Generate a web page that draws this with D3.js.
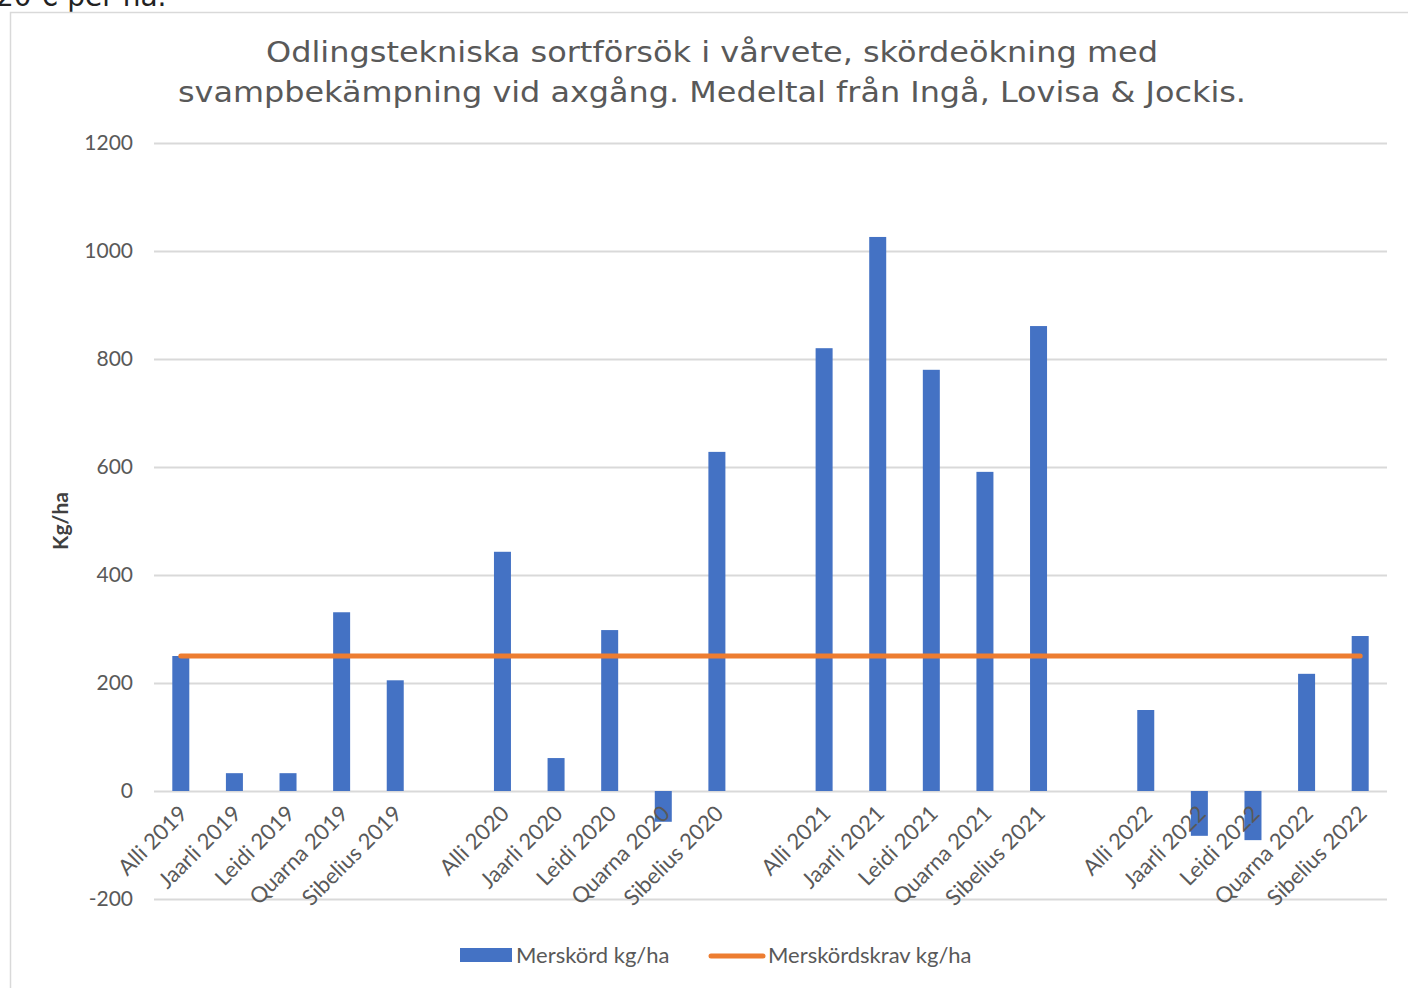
<!DOCTYPE html>
<html>
<head>
<meta charset="utf-8">
<script src="https://cdn.jsdelivr.net/npm/d3@7"></script>
<style>
  body { margin: 0; background: #fff; }
  svg { display: block; }
</style>
</head>
<body>
<div id="chart"></div>
<script>
const WIDTH = 1408;
const HEIGHT = 988;

// Categories (blank entries are the gaps between years).
const CATEGORIES = [
  "Alli 2019", "Jaarli 2019", "Leidi 2019", "Quarna 2019", "Sibelius 2019", "",
  "Alli 2020", "Jaarli 2020", "Leidi 2020", "Quarna 2020", "Sibelius 2020", " ",
  "Alli 2021", "Jaarli 2021", "Leidi 2021", "Quarna 2021", "Sibelius 2021", "  ",
  "Alli 2022", "Jaarli 2022", "Leidi 2022", "Quarna 2022", "Sibelius 2022"
];
const MERSKORD = [
  250, 33, 33, 331, 205, null,
  443, 61, 298, -57, 628, null,
  820, 1026, 780, 591, 861, null,
  150, -83, -91, 217, 287
];
const KRAV = [
  250, 250, 250, 250, 250, 250,
  250, 250, 250, 250, 250, 250,
  250, 250, 250, 250, 250, 250,
  250, 250, 250, 250, 250
];
const Y_TICKS = [-200, 0, 200, 400, 600, 800, 1000, 1200];
const SERIES_NAMES = ["Merskörd kg/ha", "Merskördskrav kg/ha"];
const TITLE_LINES = ["Odlingstekniska sortförsök i vårvete, skördeökning med",
                     "svampbekämpning vid axgång. Medeltal från Ingå, Lovisa & Jockis."];

const BLUE = "#4472c4";
const ORANGE = "#ed7d31";
const PLOT = {left: 154, right: 1387, top: 143, bottom: 899};
const LABEL_FONT = "Lato, 'Open Sans', sans-serif";
const TITLE_FONT = "'DejaVu Sans', sans-serif";

window.onload = function() {
  var svg = d3.select("#chart").append("svg")
      .attr("width", WIDTH).attr("height", HEIGHT);

  // text cut off at the top of the page (cut in the original as well)
  svg.append("text").attr("x", -4).attr("y", 6)
     .attr("font-family", TITLE_FONT)
     .attr("font-size", 28).attr("fill", "#222")
     .text("20 € per ha.");

  // chart frame
  svg.append("rect").attr("x", 10.5).attr("y", 12.5)
     .attr("width", WIDTH).attr("height", HEIGHT)
     .attr("fill", "#fff").attr("stroke", "#d9d9d9").attr("stroke-width", 1.5);

  var x = d3.scaleBand().domain(CATEGORIES)
      .range([PLOT.left, PLOT.right]).paddingInner(0).paddingOuter(0);
  var y = d3.scaleLinear().domain([-200, 1200]).range([PLOT.bottom, PLOT.top]);

  // grid + y labels
  var yAxis = svg.append("g").attr("transform", "translate(" + PLOT.left + ",0)")
     .call(d3.axisLeft(y).tickValues(Y_TICKS)
           .tickFormat(d => String(d))
           .tickSize(-(PLOT.right - PLOT.left)).tickPadding(21));
  yAxis.select(".domain").remove();
  yAxis.selectAll("line").attr("stroke", "#d9d9d9").attr("stroke-width", 2);
  yAxis.selectAll("text").attr("font-family", LABEL_FONT)
       .attr("font-size", 21).attr("fill", "#595959");

  // bars
  var bw = 17;
  svg.append("g").selectAll("rect")
     .data(CATEGORIES.map((c, i) => ({c: c, v: MERSKORD[i]})).filter(d => d.v !== null))
     .enter().append("rect")
     .attr("x", d => x(d.c) + x.bandwidth() / 2 - bw / 2)
     .attr("y", d => y(Math.max(0, d.v)))
     .attr("width", bw)
     .attr("height", d => Math.abs(y(d.v) - y(0)))
     .attr("fill", BLUE);

  // line
  var line = d3.line()
      .x((d, i) => x(CATEGORIES[i]) + x.bandwidth() / 2)
      .y(d => y(d));
  svg.append("path").datum(KRAV).attr("d", line)
     .attr("fill", "none").attr("stroke", ORANGE)
     .attr("stroke-width", 5).attr("stroke-linecap", "round");

  // x labels, rotated, next to the zero line
  svg.append("g").selectAll("text")
     .data(CATEGORIES.filter(c => c.trim() !== ""))
     .enter().append("text")
     .attr("transform", d => "translate(" + (x(d) + x.bandwidth() / 2 + 8) + "," + (y(0) + 24) + ") rotate(-45)")
     .attr("text-anchor", "end")
     .attr("font-family", LABEL_FONT)
     .attr("font-size", 22).attr("fill", "#595959")
     .text(d => d);

  // y title
  svg.append("text")
     .attr("transform", "translate(68,521) rotate(-90)")
     .attr("text-anchor", "middle")
     .attr("font-family", LABEL_FONT)
     .attr("font-size", 21).attr("font-weight", "bold").attr("fill", "#404040")
     .text("Kg/ha");

  // title
  var titleWidths = [892, 1068];
  svg.append("g").selectAll("text").data(TITLE_LINES).enter().append("text")
     .attr("x", 712).attr("y", (d, i) => 62 + i * 40)
     .attr("text-anchor", "middle")
     .attr("font-family", TITLE_FONT)
     .attr("font-size", 28).attr("fill", "#595959")
     .attr("textLength", (d, i) => titleWidths[i])
     .attr("lengthAdjust", "spacingAndGlyphs")
     .text(d => d);

  // legend
  var lg = svg.append("g");
  lg.append("rect").attr("x", 460).attr("y", 948).attr("width", 52).attr("height", 14).attr("fill", BLUE);
  lg.append("text").attr("x", 516).attr("y", 963)
    .attr("font-family", LABEL_FONT).attr("font-size", 22).attr("fill", "#595959")
    .text(SERIES_NAMES[0]);
  lg.append("line").attr("x1", 711).attr("x2", 763).attr("y1", 956).attr("y2", 956)
    .attr("stroke", ORANGE).attr("stroke-width", 5).attr("stroke-linecap", "round");
  lg.append("text").attr("x", 768).attr("y", 963)
    .attr("font-family", LABEL_FONT).attr("font-size", 22).attr("fill", "#595959")
    .text(SERIES_NAMES[1]);
};
</script>
</body>
</html>
